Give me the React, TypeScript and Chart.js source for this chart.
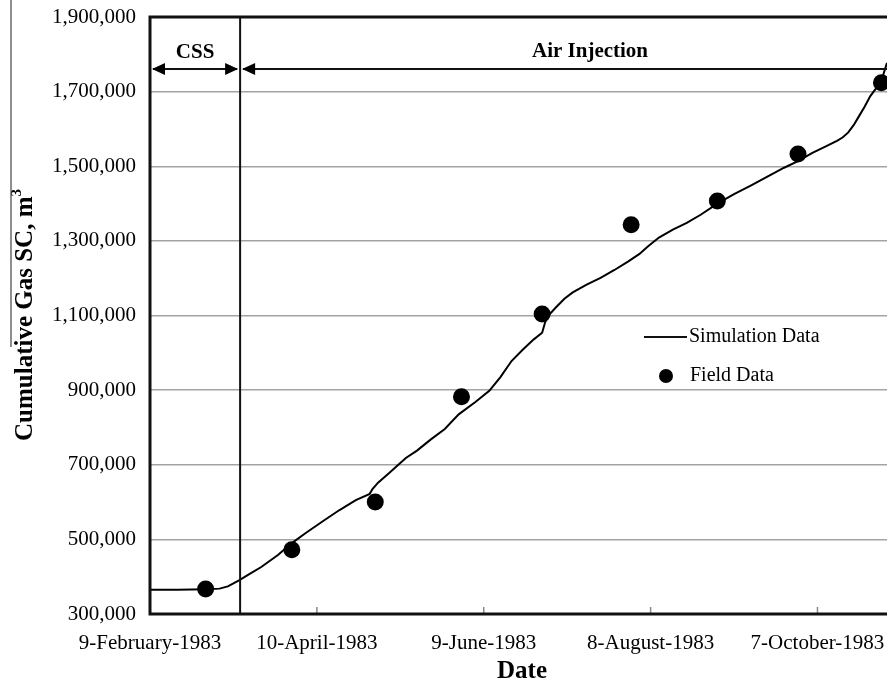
import React, { useEffect, useRef } from "react";
import { Chart, registerables } from "chart.js";

Chart.register(...registerables);

// Days since 9-February-1983
const xTickDays = [0, 60, 120, 180, 240];
const xTickLabels = ["9-February-1983", "10-April-1983", "9-June-1983", "8-August-1983", "7-October-1983"];
const xMaxDay = 265;

const yMin = 300000;
const yMax = 1900000;
const yStep = 200000;

const phaseBoundaryDay = 32.4;
const phaseLabels = ["CSS", "Air Injection"];

const simDays = [0, 10, 20, 25, 28, 32, 36, 40, 46, 51, 56, 62, 68, 74, 79, 80, 82, 86, 89, 92, 96, 101, 106, 111, 117, 122, 126, 130, 134, 138, 141, 142, 143, 146, 149, 152, 157, 162, 167, 172, 176, 179, 183, 188, 193, 198, 204, 210, 216, 222, 228, 233, 238, 243, 247, 249, 251, 253, 255, 257, 259, 261, 263, 265];
const simValues = [365000, 365000, 366000, 368000, 374000, 390000, 408000, 426000, 458000, 490000, 517000, 548000, 578000, 605000, 622000, 635000, 652000, 678000, 698000, 718000, 738000, 768000, 796000, 835000, 868000, 898000, 935000, 978000, 1008000, 1036000, 1054000, 1080000, 1098000, 1122000, 1145000, 1162000, 1183000, 1201000, 1222000, 1245000, 1265000, 1285000, 1309000, 1330000, 1348000, 1370000, 1400000, 1425000, 1448000, 1472000, 1496000, 1514000, 1535000, 1553000, 1568000, 1577000, 1590000, 1610000, 1635000, 1660000, 1688000, 1708000, 1730000, 1777000];

const fieldDays = [20, 51, 81, 112, 141, 173, 204, 233, 263];
const fieldValues = [367000, 472000, 600000, 882000, 1104000, 1343000, 1407000, 1533000, 1724000];

const FONT = "'Liberation Serif', 'Times New Roman', serif";

function arrowHead(ctx: CanvasRenderingContext2D, x: number, y: number, dir: number) {
  ctx.beginPath();
  ctx.moveTo(x, y);
  ctx.lineTo(x - dir * 13, y - 6);
  ctx.lineTo(x - dir * 13, y + 6);
  ctx.closePath();
  ctx.fill();
}

const decorPlugin = {
  id: "decor",
  afterDraw(chart: any) {
    const ctx: CanvasRenderingContext2D = chart.ctx;
    const { left, right, top, bottom } = chart.chartArea;
    const xs = chart.scales.x;
    ctx.save();
    ctx.strokeStyle = "#000";
    ctx.fillStyle = "#000";

    // inner tick marks
    ctx.strokeStyle = "#888";
    ctx.lineWidth = 1.5;
    xTickDays.forEach((d) => {
      const px = xs.getPixelForValue(d);
      ctx.beginPath();
      ctx.moveTo(px, bottom);
      ctx.lineTo(px, bottom - 7);
      ctx.stroke();
    });

    // borders
    ctx.strokeStyle = "#111";
    ctx.lineWidth = 3;
    ctx.beginPath();
    ctx.moveTo(left, top);
    ctx.lineTo(right, top);
    ctx.moveTo(left, top - 1.5);
    ctx.lineTo(left, bottom + 1.5);
    ctx.moveTo(left, bottom);
    ctx.lineTo(right, bottom);
    ctx.stroke();

    // phase boundary
    const bx = xs.getPixelForValue(phaseBoundaryDay);
    ctx.lineWidth = 2;
    ctx.beginPath();
    ctx.moveTo(bx, top);
    ctx.lineTo(bx, bottom);
    ctx.stroke();

    // arrows
    const ay = top + 52;
    ctx.lineWidth = 2;
    ctx.beginPath();
    ctx.moveTo(left + 3, ay);
    ctx.lineTo(bx - 3, ay);
    ctx.moveTo(bx + 3, ay);
    ctx.lineTo(right, ay);
    ctx.stroke();
    arrowHead(ctx, left + 2, ay, -1);
    arrowHead(ctx, bx - 2, ay, 1);
    arrowHead(ctx, bx + 2, ay, -1);

    // phase labels
    ctx.font = `bold 21px ${FONT}`;
    ctx.textAlign = "center";
    ctx.textBaseline = "middle";
    ctx.fillText(phaseLabels[0], (left + bx) / 2, top + 36);
    ctx.fillText(phaseLabels[1], 590, top + 35);

    // legend
    const ds = chart.data.datasets;
    ctx.font = `20px ${FONT}`;
    ctx.textAlign = "left";
    ctx.textBaseline = "middle";
    ctx.lineWidth = 2;
    ctx.beginPath();
    ctx.moveTo(644, 337);
    ctx.lineTo(687, 337);
    ctx.stroke();
    ctx.fillText(ds[0].label, 689, 337);
    ctx.beginPath();
    ctx.arc(666, 376, 7, 0, Math.PI * 2);
    ctx.fill();
    ctx.fillText(ds[1].label, 690, 376);

    // x title
    ctx.font = `bold 25px ${FONT}`;
    ctx.textAlign = "center";
    ctx.fillText("Date", 522, 672);

    // y title
    ctx.save();
    ctx.translate(24, 315);
    ctx.rotate(-Math.PI / 2);
    ctx.font = `bold 25px ${FONT}`;
    const main = "Cumulative Gas SC, m";
    const wMain = ctx.measureText(main).width;
    ctx.font = `bold 15px ${FONT}`;
    const wSup = ctx.measureText("3").width;
    const total = wMain + wSup;
    ctx.textAlign = "left";
    ctx.font = `bold 25px ${FONT}`;
    ctx.fillText(main, -total / 2, 2);
    ctx.font = `bold 15px ${FONT}`;
    ctx.fillText("3", -total / 2 + wMain, -7);
    ctx.restore();

    // scan edge line
    ctx.strokeStyle = "#444";
    ctx.lineWidth = 1.2;
    ctx.beginPath();
    ctx.moveTo(11, 0);
    ctx.lineTo(11, 347);
    ctx.stroke();

    ctx.restore();
  },
};

export default function App() {
  const ref = useRef<HTMLCanvasElement | null>(null);
  useEffect(() => {
    if (!ref.current) return;
    const chart = new Chart(ref.current, {
      type: "scatter",
      data: {
        datasets: [
          {
            type: "line",
            label: "Simulation Data",
            data: simDays.map((d, i) => ({ x: d, y: simValues[i] })),
            borderColor: "#000",
            borderWidth: 2,
            pointRadius: 0,
            tension: 0,
            fill: false,
          } as any,
          {
            label: "Field Data",
            data: fieldDays.map((d, i) => ({ x: d, y: fieldValues[i] })),
            backgroundColor: "#000",
            borderColor: "#000",
            borderWidth: 0,
            pointRadius: 8.5,
            clip: false,
          } as any,
        ],
      },
      options: {
        animation: false,
        responsive: false,
        layout: { autoPadding: false, padding: { top: 17, left: 0, right: 0, bottom: 0 } },
        plugins: { legend: { display: false }, tooltip: { enabled: false }, title: { display: false } },
        scales: {
          x: {
            type: "linear",
            min: 0,
            max: xMaxDay,
            afterBuildTicks: (s: any) => {
              s.ticks = xTickDays.map((v) => ({ value: v }));
            },
            afterFit: (s: any) => {
              s.height = 72;
              s.paddingLeft = 0;
              s.paddingRight = 0;
            },
            ticks: {
              autoSkip: false,
              maxRotation: 0,
              minRotation: 0,
              padding: 9,
              color: "#000",
              font: { family: FONT, size: 21 },
              callback: (v: any) => {
                const i = xTickDays.indexOf(Number(v));
                return i >= 0 ? xTickLabels[i] : "";
              },
            },
            grid: { display: false },
            border: { display: false },
          },
          y: {
            type: "linear",
            min: yMin,
            max: yMax,
            afterFit: (s: any) => {
              s.width = 150;
              s.paddingTop = 0;
              s.paddingBottom = 0;
            },
            ticks: {
              stepSize: yStep,
              padding: 14,
              color: "#000",
              font: { family: FONT, size: 21 },
              callback: (v: any) => Number(v).toLocaleString("en-US"),
            },
            grid: { color: "#a3a3a3", lineWidth: 1.5, drawTicks: false },
            border: { display: false },
          },
        },
      },
      plugins: [decorPlugin],
    });
    return () => chart.destroy();
  }, []);
  return (
    <div style={{ position: "absolute", left: 0, top: 0, width: 887, height: 686, background: "#fff", overflow: "hidden" }}>
      <canvas ref={ref} width={887} height={686} style={{ display: "block" }} />
    </div>
  );
}
